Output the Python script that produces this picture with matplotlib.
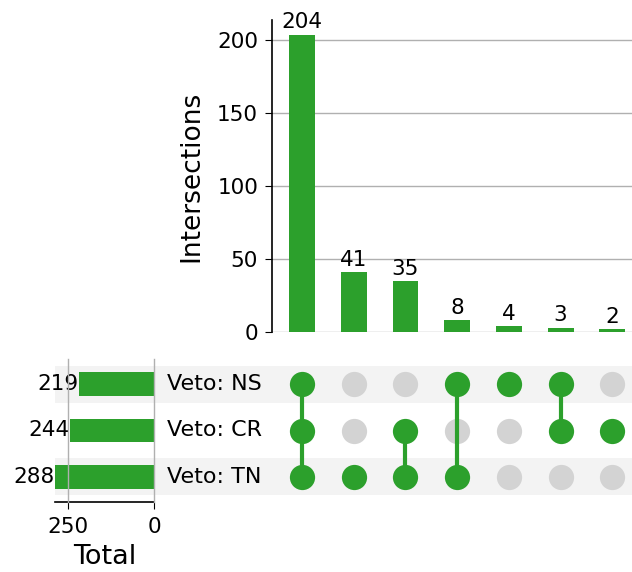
import matplotlib
matplotlib.use("Agg")
import matplotlib.pyplot as plt
import numpy as np

plt.rcParams["font.family"] = "DejaVu Sans"

green = '#2ca02c'
grey_dot = '#d3d3d3'
shade = '#f3f3f3'

# data
sets = ['Veto: TN', 'Veto: CR', 'Veto: NS']          # bottom -> top
totals = [288, 244, 219]
counts = [204, 41, 35, 8, 4, 3, 2]
# membership per intersection: (TN, CR, NS)
members = [(1, 1, 1), (1, 0, 0), (1, 1, 0), (1, 0, 1), (0, 0, 1), (0, 1, 1), (0, 1, 0)]
total_ticks = [250, 0]

W, H = 632, 572
fig = plt.figure(figsize=(W / 100, H / 100), dpi=100)

def box(x0, y0, x1, y1):
    # pixel box (top-left origin) -> figure fraction
    return [x0 / W, 1 - y1 / H, (x1 - x0) / W, (y1 - y0) / H]

ylo, yhi = -0.55, 2.55
ybox = (359, 502)

# background shading for rows
axbg = fig.add_axes(box(55, ybox[0], 632, ybox[1]))
axbg.set_xlim(0, 1)
axbg.set_ylim(ylo, yhi)
for i in range(len(sets)):
    if i % 2 == 0:
        axbg.axhspan(i - 0.4, i + 0.4, color=shade, lw=0)
    axbg.text((167 - 55) / (632 - 55), i, sets[i], ha='left', va='center', fontsize=16)
axbg.axis('off')

# intersections bars
ax1 = fig.add_axes(box(272, 20, 632, 332))
x = np.arange(len(counts))
ax1.bar(x, counts, width=0.5, color=green, zorder=3)
for xi, c in zip(x, counts):
    ax1.text(xi, c + 1.5, str(c), ha='center', va='bottom', fontsize=15.5)
ax1.set_xlim(-0.58, 6.38)
ax1.set_ylim(0, 214)
ax1.set_yticks([0, 50, 100, 150, 200])
ax1.yaxis.grid(True, color='#b0b0b0', lw=1)
ax1.set_axisbelow(True)
ax1.set_xticks([])
for s in ['top', 'right', 'bottom']:
    ax1.spines[s].set_visible(False)
ax1.spines['left'].set_linewidth(1.2)
ax1.tick_params(axis='y', labelsize=15.5, length=5, pad=5)
ax1.set_ylabel('Intersections', fontsize=19, labelpad=9)
ax1.patch.set_alpha(0)

# matrix
axm = fig.add_axes(box(272, ybox[0], 632, ybox[1]))
axm.set_xlim(-0.58, 6.38)
axm.set_ylim(ylo, yhi)
for xi, mem in zip(x, members):
    on = [i for i, m in enumerate(mem) if m]
    off = [i for i, m in enumerate(mem) if not m]
    axm.scatter([xi] * len(off), off, s=330, color=grey_dot, lw=0, zorder=2)
    axm.scatter([xi] * len(on), on, s=330, color=green, lw=0, zorder=4)
    if len(on) > 1:
        axm.plot([xi, xi], [min(on), max(on)], color=green, lw=3, zorder=3)
axm.axis('off')

# totals
axt = fig.add_axes(box(55, ybox[0], 154, ybox[1]))
yy = np.arange(len(sets))
axt.barh(yy, totals, height=0.52, color=green, zorder=2)
for yi, t in zip(yy, totals):
    axt.text(t + 1, yi, str(t), ha='right', va='center', fontsize=15.5)
for tk in total_ticks:
    axt.axvline(tk, color='#b0b0b0', lw=1, zorder=3, clip_on=False)
axt.set_xlim(288, 0)
axt.set_ylim(ylo, yhi)
axt.set_xticks(total_ticks)
axt.set_yticks([])
for s in ['top', 'right', 'left']:
    axt.spines[s].set_visible(False)
axt.spines['bottom'].set_linewidth(1.2)
axt.tick_params(axis='x', labelsize=15.5, length=5, pad=6)
axt.set_xlabel('Total', fontsize=19.5, labelpad=5)
axt.patch.set_alpha(0)

fig.savefig('out.png', dpi=100)
